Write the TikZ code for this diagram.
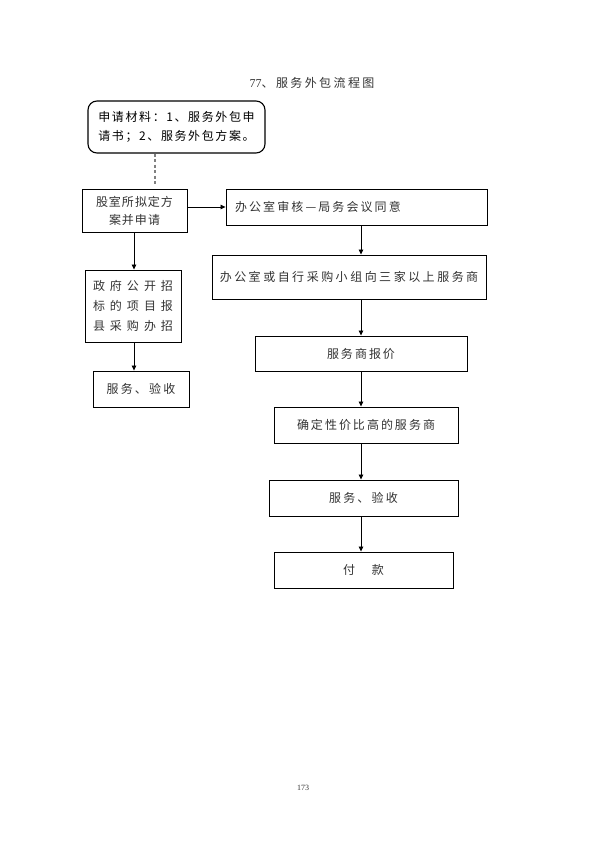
\documentclass[tikz,border=0pt]{standalone}
\usepackage{fontspec}
\setmainfont{Liberation Serif}
\newfontfamily\cjk{Noto Sans CJK SC}
\usetikzlibrary{arrows.meta}
% fixed gap between the characters of a line
\newcommand\spaced[2]{\def\spacedgap{#1}\spacedfirst#2\relax}
\def\spacedfirst#1{#1\spacedstep}
\def\spacedstep#1{\ifx\relax#1\else\kern\spacedgap#1\expandafter\spacedstep\fi}

\begin{document}
\begin{tikzpicture}[x=1pt,y=-1pt,
        box/.style={draw,line width=0.9pt,inner sep=0pt,align=center,text=black!80,
            font=\cjk\fontsize{12}{18}\selectfont},
        arr/.style={line width=0.8pt,-{Triangle[width=4.5pt,length=5pt]}}]
        \path[fill=white,use as bounding box] (0,0) rectangle (596,842); % page
        \node[font=\fontsize{12}{14}\selectfont,text=black!80] (title) at (312,83)
        {77{\cjk\spaced{2.4pt}{、服务外包流程图}}}; % title
        \node[box,rounded corners=9pt,line width=1.1pt,text=black,minimum width=177pt,
            minimum height=52pt,align=left,font=\cjk\fontsize{12}{19.3}\selectfont] (req) at (176.5,127)
        {\spaced{1.6pt}{申请材料：1、服务外包申}\\\spaced{1.6pt}{请书；2、服务外包方案。}}; % materials
        \coordinate (dotend) at (155,184);
        \draw[gray,line width=1.2pt,dash pattern=on 3pt off 2.5pt] (req.south -| dotend) -- (dotend); % dotted link
        % left column
        \node[box,minimum width=105pt,minimum height=43pt] (draft) at (134.5,211)
        {\spaced{1pt}{股室所拟定方}\\\spaced{1pt}{案并申请}};
        \node[box,minimum width=96pt,minimum height=72pt,font=\cjk\fontsize{12}{20}\selectfont]
        (gov) at (133,306)
        {\spaced{5pt}{政府公开招}\\\spaced{5pt}{标的项目报}\\\spaced{5pt}{县采购办招}};
        \node[box,minimum width=96pt,minimum height=36pt] (accleft) at (141,389)
        {\spaced{2.2pt}{服务、验收}};
        \coordinate (lspine) at (134,0);
        \draw[arr] (draft.south -| lspine) -- (gov.north -| lspine);
        \draw[arr] (gov.south -| lspine) -- (accleft.north -| lspine);
        % right column
        \node[box,minimum width=261pt,minimum height=36pt,text width=243pt,align=left]
        (audit) at (356.5,207) {\spaced{2.1pt}{办公室审核—局务会议同意}};
        \draw[arr] (draft.east |- audit.west) -- (audit.west); % to office
        \node[box,minimum width=274pt,minimum height=44pt] (invite) at (349,277)
        {\spaced{2.5pt}{办公室或自行采购小组向三家以上服务商}};
        \node[box,minimum width=212pt,minimum height=35pt] (quote) at (361,353.5)
        {\spaced{2pt}{服务商报价}};
        \node[box,minimum width=184pt,minimum height=36pt] (choose) at (366,425)
        {\spaced{2pt}{确定性价比高的服务商}};
        \node[box,minimum width=189pt,minimum height=36pt] (accright) at (363.5,498)
        {\spaced{2.2pt}{服务、验收}};
        \node[box,minimum width=179pt,minimum height=36pt] (pay) at (363.5,570)
        {\spaced{17pt}{付款}};
        \coordinate (spine) at (361,0);
        \draw[arr] (audit.south -| spine) -- (invite.north -| spine);
        \draw[arr] (invite.south -| spine) -- (quote.north -| spine);
        \draw[arr] (quote.south -| spine) -- (choose.north -| spine);
        \draw[arr] (choose.south -| spine) -- (accright.north -| spine);
        \draw[arr] (accright.south -| spine) -- (pay.north -| spine);
        \node[font=\fontsize{8}{9}\selectfont,text=black!80] (pageno) at (303,788) {173}; % page number
    \end{tikzpicture}
\end{document}
